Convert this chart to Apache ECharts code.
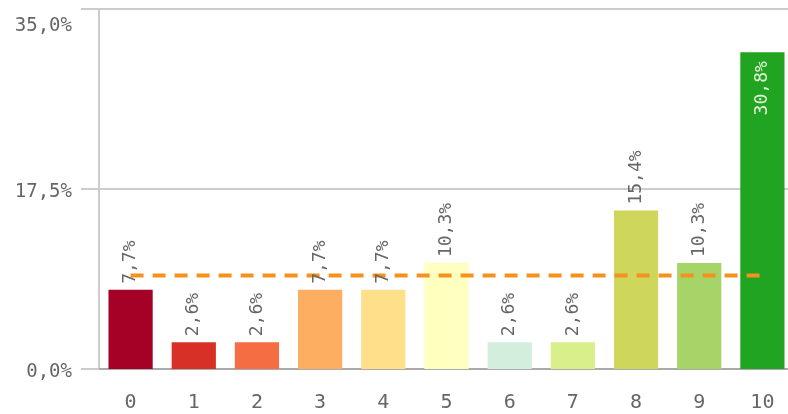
<!DOCTYPE html>
<html>
<head>
<meta charset="utf-8">
<script src="https://cdn.jsdelivr.net/npm/echarts@6/dist/echarts.min.js"></script>
<style>
  html, body { margin: 0; padding: 0; background: #fff; overflow: hidden; }
  /* the plot area runs a few pixels past the right edge of the view */
  #chart { width: 794px; height: 414px; }
</style>
</head>
<body>
<div id="chart"></div>
<script>
// Score categories 0..10 and the share of answers per score (%)
const categories = ['0', '1', '2', '3', '4', '5', '6', '7', '8', '9', '10'];
const shares = [7.7, 2.6, 2.6, 7.7, 7.7, 10.3, 2.6, 2.6, 15.4, 10.3, 30.8];
// Reference level drawn as a dashed line across the categories (%)
const referenceLevel = [9.1, 9.1, 9.1, 9.1, 9.1, 9.1, 9.1, 9.1, 9.1, 9.1, 9.1];
// Value axis ticks (%)
const yTicks = [0, 17.5, 35];
// Bar colours, red to green
const barColors = ['#a50026', '#d73027', '#f46d43', '#fdae61', '#fee08b', '#ffffbf',
                   '#d4eedd', '#d9ef8b', '#cfd65c', '#a6d468', '#21a421'];

const FONT = '"DejaVu Sans Mono", monospace';
const fmt = v => v.toFixed(1).replace('.', ',') + '%';

const chart = echarts.init(document.getElementById('chart'), null, { renderer: 'canvas' });

const labelBase = {
  show: true,
  position: 'top',
  rotate: 90,
  align: 'left',
  verticalAlign: 'middle',
  distance: 6,
  color: '#666',
  fontFamily: FONT,
  fontSize: 18,
  formatter: p => fmt(p.value)
};

chart.setOption({
  animation: false,
  grid: { left: 99, right: 0, top: 9, bottom: 45, containLabel: false },
  xAxis: {
    type: 'category',
    data: categories,
    axisLine: { lineStyle: { color: '#aaa', width: 2 } },
    axisTick: { show: false },
    axisLabel: { color: '#666', fontFamily: FONT, fontSize: 20, margin: 24 }
  },
  yAxis: {
    type: 'value',
    min: yTicks[0],
    max: yTicks[yTicks.length - 1],
    interval: yTicks[1] - yTicks[0],
    axisLine: { show: true, lineStyle: { color: '#ccc', width: 2 } },
    axisTick: { show: true, length: 18, lineStyle: { color: '#ccc', width: 2 } },
    splitLine: { lineStyle: { color: '#ccc', width: 2 } },
    axisLabel: {
      color: '#666', fontFamily: FONT, fontSize: 19, margin: 27,
      formatter: v => v === yTicks[yTicks.length - 1] ? '{top|' + fmt(v) + '}' : '{n|' + fmt(v) + '}',
      rich: {
        top: { color: '#666', fontFamily: FONT, fontSize: 19, padding: [34, 0, 0, 0] },
        n: { color: '#666', fontFamily: FONT, fontSize: 19, padding: [6, 0, 0, 0] }
      }
    }
  },
  series: [
    {
      // coloured bars
      type: 'bar',
      barWidth: '70%',
      z: 2,
      data: shares.map((v, i) => ({ value: v, itemStyle: { color: barColors[i] } }))
    },
    {
      // dashed reference line over the bars
      type: 'line',
      data: referenceLevel,
      symbol: 'none',
      silent: true,
      lineStyle: { color: '#f5921e', width: 4, type: [13, 9] },
      z: 3
    },
    {
      // value labels, kept above the dashed line
      type: 'bar',
      barWidth: '70%',
      barGap: '-100%',
      z: 4,
      silent: true,
      itemStyle: { color: 'rgba(0,0,0,0)' },
      data: shares.map(v => {
        const inside = v > 25;
        return {
          value: v,
          label: inside ? {
            position: 'insideTop', rotate: 90, align: 'right', verticalAlign: 'middle',
            distance: 9, color: '#e4f3d6'
          } : {}
        };
      }),
      label: labelBase
    }
  ]
});
</script>
</body>
</html>
